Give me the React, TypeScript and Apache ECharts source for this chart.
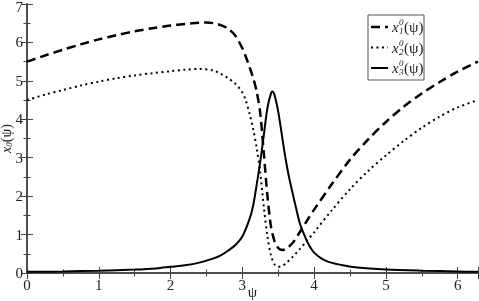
import React, { useEffect, useRef } from "react";
import * as echarts from "echarts";

const psi1 = [0, 0.25, 0.5, 0.75, 1.0, 1.25, 1.5, 1.75, 2.0, 2.2, 2.4, 2.5, 2.6, 2.7, 2.8, 2.9, 3.0, 3.05, 3.1, 3.15, 3.2, 3.25, 3.3, 3.35, 3.4, 3.45, 3.5, 3.55, 3.6, 3.7, 3.8, 3.9, 4.0, 4.25, 4.5, 4.75, 5.0, 5.25, 5.5, 5.75, 6.0, 6.2832];
const x1 = [5.5, 5.66, 5.81, 5.95, 6.08, 6.19, 6.29, 6.37, 6.44, 6.48, 6.51, 6.52, 6.5, 6.45, 6.36, 6.18, 5.85, 5.62, 5.36, 5.08, 4.72, 4.15, 3.1, 2.0, 1.2, 0.82, 0.65, 0.6, 0.62, 0.78, 1.06, 1.36, 1.65, 2.32, 2.95, 3.47, 3.93, 4.33, 4.67, 4.97, 5.24, 5.5];

const psi2 = [0, 0.25, 0.5, 0.75, 1.0, 1.25, 1.5, 1.75, 2.0, 2.2, 2.4, 2.6, 2.7, 2.8, 2.9, 3.0, 3.05, 3.1, 3.15, 3.2, 3.25, 3.3, 3.35, 3.4, 3.45, 3.5, 3.55, 3.6, 3.7, 3.8, 3.9, 4.0, 4.25, 4.5, 4.75, 5.0, 5.25, 5.5, 5.75, 6.0, 6.2832];
const x2 = [4.5, 4.64, 4.76, 4.88, 4.98, 5.07, 5.14, 5.2, 5.25, 5.29, 5.31, 5.27, 5.18, 5.07, 4.93, 4.7, 4.48, 4.15, 3.75, 3.25, 2.6, 1.7, 0.95, 0.45, 0.22, 0.16, 0.18, 0.24, 0.42, 0.62, 0.84, 1.06, 1.64, 2.18, 2.65, 3.06, 3.44, 3.78, 4.07, 4.31, 4.5];

const psi3 = [0, 0.5, 1.0, 1.5, 1.8, 2.0, 2.2, 2.4, 2.6, 2.7, 2.8, 2.9, 3.0, 3.1, 3.15, 3.2, 3.25, 3.3, 3.35, 3.4, 3.42, 3.45, 3.5, 3.55, 3.6, 3.65, 3.7, 3.75, 3.8, 3.85, 3.9, 3.95, 4.0, 4.1, 4.2, 4.4, 4.6, 5.0, 5.5, 6.0, 6.2832];
const x3 = [0.03, 0.04, 0.06, 0.09, 0.12, 0.16, 0.2, 0.27, 0.38, 0.46, 0.58, 0.72, 0.95, 1.4, 1.75, 2.3, 2.9, 3.6, 4.3, 4.68, 4.72, 4.62, 4.2, 3.6, 3.0, 2.5, 2.08, 1.68, 1.3, 1.05, 0.83, 0.66, 0.53, 0.38, 0.29, 0.2, 0.14, 0.09, 0.06, 0.04, 0.03];

const xTicks = [0, 1, 2, 3, 4, 5, 6];
const yTicks = [0, 1, 2, 3, 4, 5, 6, 7];

const seriesNames = ["x1", "x2", "x3"];
const subDigits = ["1", "2", "3"];

const FONT = "Liberation Serif, Times New Roman, Times, serif";
const AX = "#444";

const zip = (a: number[], b: number[]) => a.map((v, i) => [v, b[i]]);

export default function App() {
  const ref = useRef<HTMLDivElement>(null);
  useEffect(() => {
    const chart = echarts.init(ref.current!, null, { renderer: "svg" });
    const tickCommon = {
      axisLine: { show: true, lineStyle: { color: AX, width: 1.5 } },
      axisTick: { show: true, inside: true, length: 6, lineStyle: { color: AX, width: 1 } },
      minorTick: { show: true, splitNumber: 2, length: 3.5, lineStyle: { color: AX, width: 1 } },
      splitLine: { show: false },
    };
    const xLabel = (v: number) => (xTicks.includes(v) ? String(v) : "");
    const yLabel = (v: number) => {
      if (!yTicks.includes(v)) return "";
      return v === yTicks[yTicks.length - 1] ? `{t|${v}}` : String(v);
    };
    const legendLines: any[] = [];
    const styles = [
      { lineDash: [9, 5], lineWidth: 2.5 },
      { lineDash: [2, 3.5], lineWidth: 2 },
      { lineDash: null, lineWidth: 2 },
    ];
    const rowsY = [27, 47.5, 68];
    rowsY.forEach((y, i) => {
      legendLines.push({
        type: "line",
        shape: { x1: 371, y1: y, x2: 388, y2: y },
        style: { stroke: "#000", lineWidth: styles[i].lineWidth, lineDash: styles[i].lineDash },
      });
      legendLines.push({
        type: "text", x: 392, y: y, style: { text: "x", fontFamily: FONT, fontStyle: "italic", fontSize: 15, fill: "#222", verticalAlign: "middle" },
      });
      legendLines.push({
        type: "text", x: 399, y: y - 5, style: { text: "0", fontFamily: FONT, fontStyle: "italic", fontSize: 9, fill: "#222", verticalAlign: "middle" },
      });
      legendLines.push({
        type: "text", x: 399, y: y + 4, style: { text: subDigits[i], fontFamily: FONT, fontStyle: "italic", fontSize: 9, fill: "#222", verticalAlign: "middle" },
      });
      legendLines.push({
        type: "text", x: 404, y: y, style: { text: "(ψ)", fontFamily: FONT, fontSize: 15, fill: "#222", verticalAlign: "middle" },
      });
    });

    chart.setOption({
      animation: false,
      textStyle: { fontFamily: FONT },
      grid: { left: 27, right: 1, top: 4, bottom: 28, containLabel: false, outerBoundsMode: "none" },
      xAxis: [
        {
          type: "value", min: 0, max: 6.2832, interval: 1, position: "bottom",
          ...tickCommon,
          axisLabel: { formatter: xLabel, color: "#222", fontFamily: FONT, fontSize: 15, margin: 4, showMaxLabel: false, hideOverlap: false },
          name: "ψ", nameLocation: "middle", nameGap: 19, nameMoveOverlap: false,
          nameTextStyle: { fontFamily: FONT, fontSize: 15, color: "#222", verticalAlign: "middle" },
        },
        {
          type: "value", min: 0, max: 6.2832, interval: 1, position: "top",
          ...tickCommon, axisLabel: { show: false },
        },
      ],
      yAxis: [
        {
          type: "value", min: 0, max: 7, interval: 1, position: "left",
          ...tickCommon,
          axisLabel: {
            formatter: yLabel, color: "#222", fontFamily: FONT, fontSize: 15, margin: 4, hideOverlap: false,
            rich: { t: { fontFamily: FONT, fontSize: 15, color: "#222", lineHeight: 13, padding: [6, 0, 0, 0] } },
          },
          name: "{i|x}{s|0}{n|(ψ)}", nameLocation: "middle", nameGap: 14, nameRotate: 90, nameMoveOverlap: false,
          nameTextStyle: {
            fontFamily: FONT, fontSize: 14, color: "#222",
            rich: {
              i: { fontFamily: FONT, fontSize: 14, fontStyle: "italic", color: "#222", verticalAlign: "bottom", lineHeight: 14 },
              s: { fontFamily: FONT, fontSize: 9, fontStyle: "italic", color: "#222", verticalAlign: "bottom", lineHeight: 9 },
              n: { fontFamily: FONT, fontSize: 14, color: "#222", verticalAlign: "bottom", lineHeight: 14 },
            },
          },
        },
        {
          type: "value", min: 0, max: 7, interval: 1, position: "right",
          ...tickCommon, axisLabel: { show: false },
        },
      ],
      series: [
        { name: seriesNames[0], type: "line", data: zip(psi1, x1), showSymbol: false, smooth: 0.3, lineStyle: { color: "#000", width: 2.5, type: [9, 5] } },
        { name: seriesNames[1], type: "line", data: zip(psi2, x2), showSymbol: false, smooth: 0.3, lineStyle: { color: "#000", width: 2, type: [2, 3.5] } },
        { name: seriesNames[2], type: "line", data: zip(psi3, x3), showSymbol: false, smooth: 0.3, lineStyle: { color: "#000", width: 2, type: "solid" } },
      ],
      graphic: [
        {
          type: "rect", shape: { x: 368, y: 15, width: 56, height: 65 },
          style: { fill: "#fff", stroke: "#555", lineWidth: 1 }, z: 100,
        },
        ...legendLines.map((e) => ({ ...e, z: 101 })),
      ],
    });
    return () => chart.dispose();
  }, []);
  return <div ref={ref} style={{ position: "fixed", left: 0, top: 0, width: 479, height: 301 }} />;
}
